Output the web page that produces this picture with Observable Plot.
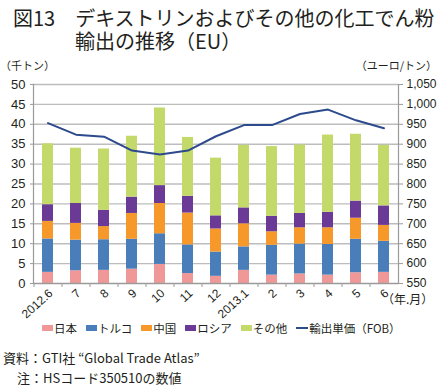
<!DOCTYPE html>
<html><head><meta charset="utf-8">
<script src="https://cdn.jsdelivr.net/npm/d3@7"></script>
<script src="https://cdn.jsdelivr.net/npm/@observablehq/plot@0.6"></script>
<style>
body{margin:0;background:#fff;font-family:"Noto Sans CJK JP","Noto Sans",sans-serif;color:#231f20}
#wrap{position:relative;width:440px;height:387px;overflow:hidden;background:#fff}
.abs{position:absolute;white-space:nowrap}
.title{font-size:20px;line-height:22.5px;font-weight:400;padding-left:62px;text-indent:-62px}
.unit{font-size:11px;line-height:11px}
#chart{position:absolute;left:0;top:60px}
#legend{position:absolute;left:42px;top:321px;display:flex;align-items:center;font-size:11.5px;line-height:14px}
.item{display:flex;align-items:center;margin-right:9px}
.sw{width:11px;height:6px;margin-right:1px}
.ln{width:12px;height:2px;margin-right:1px}
.cap{font-size:13px;line-height:13px}
</style></head><body>
<div id="wrap">
  <div class="abs title" style="left:13px;top:7px">図13　デキストリンおよびその他の化工でん粉<br>輸出の推移（EU）</div>
  <div class="abs unit" style="left:0px;top:60px">（千トン）</div>
  <div class="abs unit" style="right:3px;top:60px">（ユーロ/トン）</div>
  <div id="chart"></div>
  <div class="abs" style="left:382px;top:292px;font-size:12px;line-height:14px">（年.月）</div>
  <div id="legend"></div>
  <div class="abs cap" style="left:3px;top:351px">資料：GTI社 “Global Trade Atlas”</div>
  <div class="abs cap" style="left:17px;top:371px">注：HSコード350510の数値</div>
</div>
<script>
const months = ["2012.6","2012.7","2012.8","2012.9","2012.10","2012.11","2012.12","2013.1","2013.2","2013.3","2013.4","2013.5","2013.6"];
const monthLabels = ["2012.6","7","8","9","10","11","12","2013.1","2","3","4","5","6"];
const seriesNames = ["日本","トルコ","中国","ロシア","その他"];
const japan  = [2.8,3.2,3.3,3.6,4.8,2.5,1.8,3.3,2.1,2.4,2.1,2.7,2.8];
const turkey = [8.4,7.7,7.7,7.5,7.7,7.2,6.1,5.9,7.5,7.5,7.7,8.4,7.8];
const china  = [4.4,4.2,3.3,6.5,7.6,8.0,5.8,5.8,3.4,4.1,4.2,5.3,4.0];
const russia = [4.2,5.0,4.1,4.1,4.5,4.2,3.3,4.0,3.9,3.6,3.9,4.3,4.9];
const other  = [15.3,13.9,15.4,15.3,19.5,14.8,14.5,15.7,17.5,17.2,19.4,16.8,15.2];
const price  = [953,924,919,884,874,884,920,948,948,976,987,960,940];
const lineName = "輸出単価（FOB）";
const colors = ["#f09898","#4a7ebb","#f7982a","#6b3a96","#c3d96a"];
const lineColor = "#2c4a8c";
const leftTicks = d3.range(0, 51, 5);

const seriesValues = [japan, turkey, china, russia, other];
const table = [];
seriesValues.forEach((vals, si) => vals.forEach((v, i) => table.push({month: months[i], series: seriesNames[si], value: v})));
const priceRows = months.map((m, i) => ({month: m, price: price[i]}));
// right axis: price = 550 + 10 * left value
const toLeft = p => (p - 550) / 10;
const fmt = d3.format(",");

const chart = Plot.plot({
  width: 440, height: 270,
  marginTop: 24, marginBottom: 47, marginLeft: 33, marginRight: 42,
  style: {fontFamily: '"Liberation Sans","Noto Sans CJK JP",sans-serif', fontSize: "12px", color: "#231f20", background: "transparent"},
  x: {domain: months, paddingInner: 0.59, paddingOuter: 0.295, label: null},
  y: {domain: [0, 50], label: null},
  color: {domain: seriesNames, range: colors},
  marks: [
    Plot.ruleY(leftTicks.filter(d => d > 0), {stroke: "#bdbdbd", strokeWidth: 1.4}),
    Plot.barY(table, {x: "month", y: "value", fill: "series"}),
    Plot.line(priceRows, {x: "month", y: d => toLeft(d.price), stroke: lineColor, strokeWidth: 2}),
    Plot.ruleY([0], {stroke: "#9a9a9a", strokeWidth: 1.4}),
    Plot.frame({anchor: "left", stroke: "#9a9a9a", strokeWidth: 1.2}),
    Plot.frame({anchor: "right", stroke: "#9a9a9a", strokeWidth: 1.2}),
    Plot.ruleX(months, {x: d => d, dx: -14, y1: 0, y2: -1, stroke: "#9a9a9a"}),
    Plot.axisY({anchor: "left", ticks: leftTicks, tickFormat: d => String(d), tickSize: 3, tickPadding: 5, fontSize: 13, stroke: "#9a9a9a", fill: "#231f20", label: null}),
    Plot.axisY({anchor: "right", ticks: leftTicks, tickFormat: d => fmt(550 + d * 10), tickSize: 4, tickPadding: 4, stroke: "#9a9a9a", fill: "#231f20", label: null}),
    Plot.axisX({ticks: months, tickFormat: d => monthLabels[months.indexOf(d)], tickRotate: -42, tickSize: 0, tickPadding: 8, dx: 3, fill: "#231f20", label: null})
  ]
});
document.getElementById("chart").appendChild(chart);

const legend = document.getElementById("legend");
seriesNames.forEach((n, i) => {
  const it = document.createElement("div"); it.className = "item";
  it.innerHTML = `<span class="sw" style="background:${colors[i]}"></span><span>${n}</span>`;
  legend.appendChild(it);
});
const li = document.createElement("div"); li.className = "item";
li.innerHTML = `<span class="ln" style="background:${lineColor}"></span><span>${lineName}</span>`;
legend.appendChild(li);
</script>
</body></html>
